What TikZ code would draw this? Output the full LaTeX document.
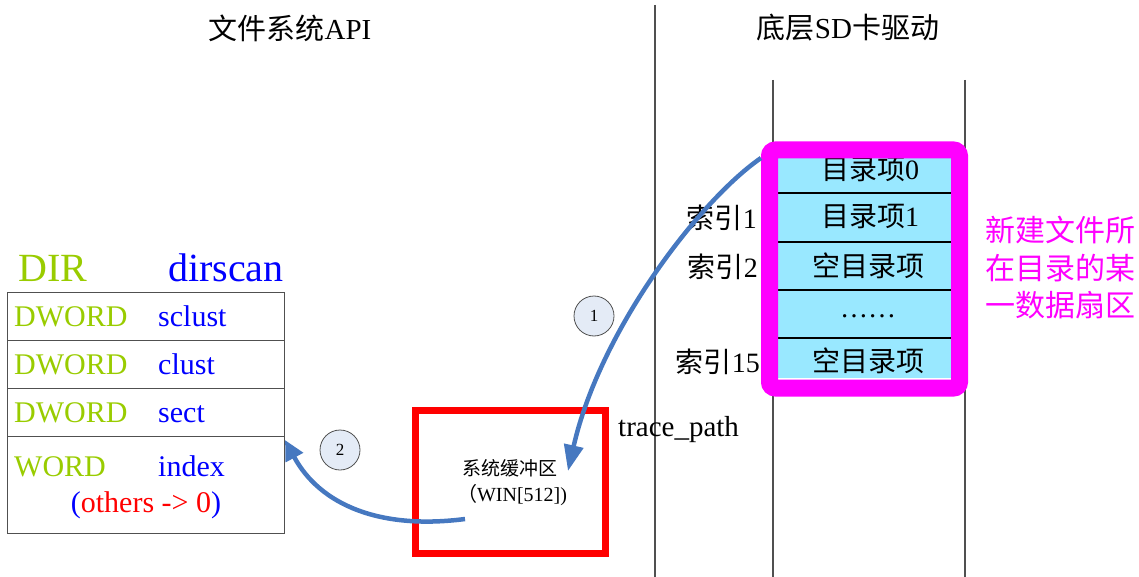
\documentclass[tikz,border=0pt]{standalone}
\usepackage{fontspec}
\setmainfont{Liberation Serif}
\newfontfamily\cjk{Noto Sans CJK SC}
\usetikzlibrary{arrows.meta}
\definecolor{dgreen}{RGB}{153,204,0}
\definecolor{cellc}{RGB}{153,232,255}
\definecolor{arrb}{RGB}{70,120,192}
\definecolor{circf}{RGB}{228,235,246}
\definecolor{lgray}{RGB}{80,80,80}
\definecolor{mag}{RGB}{255,0,255}
\definecolor{rred}{RGB}{255,0,0}
\definecolor{bblue}{RGB}{0,0,255}
\newcommand\fsz[1]{\fontsize{#1}{#1}\selectfont}
\begin{document}
\begin{tikzpicture}[x=1pt,y=-1pt,
  vline/.style={draw=lgray,line width=1.2pt},
  rowbox/.style={draw=lgray,line width=1.2pt,minimum width=277pt,inner sep=0pt,anchor=north west},
  title/.style={font=\fsz{29},inner sep=0pt},
  typ/.style={font=\fsz{30},text=dgreen,anchor=base west,inner sep=0pt},
  fld/.style={font=\fsz{30},text=bblue,anchor=base west,inner sep=0pt},
  celltxt/.style={font=\cjk\fsz{28},inner sep=0pt},
  idx/.style={font=\fsz{28},inner sep=0pt,anchor=east},
  mtxt/.style={font=\cjk\fsz{30},text=mag,inner sep=0pt},
  circ/.style={circle,draw=lgray,line width=0.8pt,fill=circf,minimum size=40pt,inner sep=0pt,font=\fsz{17}},
  arr/.style={draw=arrb,line width=4.5pt,-{Triangle[length=26pt,width=19pt]}},
  arr2/.style={draw=arrb,line width=4.5pt,-{Triangle[length=20pt,width=19pt]}}
]
\useasboundingbox (0,0) rectangle (1139,577);
% separators
\draw[vline] (655,5) -- (655,577);
\draw[vline] (773,80) -- (773,577);
\draw[vline] (965,80) -- (965,577);
% titles
\node[title] (t1) at (290,28) {{\cjk 文件系统}API};
\node[title] (t2) at (848,28) {{\cjk 底层}SD{\cjk 卡驱动}};
% DIR structure
\node[font=\fsz{40},text=dgreen,anchor=base west,inner sep=0pt] (dir) at (18,281) {DIR};
\node[font=\fsz{40},text=bblue,anchor=base west,inner sep=0pt] (dirscan) at (168,281) {dirscan};
\node[rowbox,minimum height=48pt] (r1) at (7,292) {};
\node[rowbox,minimum height=48pt] (r2) at (7,340) {};
\node[rowbox,minimum height=48pt] (r3) at (7,388) {};
\node[rowbox,minimum height=97pt] (r4) at (7,436) {};
\node[typ] (ty1) at (14,326) {DWORD};
\node[fld] (f1) at (158,326) {sclust};
\node[typ] (ty2) at (14,374) {DWORD};
\node[fld] (f2) at (158,374) {clust};
\node[typ] (ty3) at (14,422) {DWORD};
\node[fld] (f3) at (158,422) {sect};
\node[typ] (ty4) at (14,476) {WORD};
\node[fld] (f4) at (158,476) {index};
\node[font=\fsz{30},anchor=base,inner sep=0pt] (oth) at (146,512) {\textcolor{bblue}{(}\textcolor{rred}{others -> 0}\textcolor{bblue}{)}};
% buffer
\node[draw=rred,line width=7pt,minimum width=190pt,minimum height=143pt,inner sep=0pt] (buf) at (510.5,482) {};
\node[font=\cjk\fsz{19},inner sep=0pt] (buft1) at (510,468) {系统缓冲区};
\node[font=\fsz{20},inner sep=0pt] (buft2) at (512,495) {{\cjk （}WIN[512])};
\node[font=\fsz{29},anchor=base west,inner sep=0pt] (tp) at (618,436) {trace\_path};
% sector cells
\fill[cellc] (778,158) rectangle (952,378);
\draw[black,line width=1.2pt] (778,193) -- (952,193) (778,242) -- (952,242) (778,290) -- (952,290) (778,338) -- (952,338);
\node[celltxt] (c0) at (870,170) {目录项{\fontspec{Liberation Serif}0}};
\node[celltxt] (c1) at (870,217) {目录项{\fontspec{Liberation Serif}1}};
\node[celltxt] (c2) at (868,266) {空目录项};
\node[font=\fsz{28},anchor=base,inner sep=0pt] (c3) at (868,317) {……};
\node[celltxt] (c4) at (868,361) {空目录项};
\node[draw=mag,line width=17pt,rounded corners=6pt,minimum width=190pt,minimum height=238pt,inner sep=0pt] (sec) at (864.5,269) {};
\node[idx] (i1) at (757,218) {{\cjk 索引}1};
\node[idx] (i2) at (758,267) {{\cjk 索引}2};
\node[idx] (i15) at (760,362) {{\cjk 索引}15};
\node[mtxt] (m1) at (1060,230) {新建文件所};
\node[mtxt] (m2) at (1060,268) {在目录的某};
\node[mtxt] (m3) at (1060,305) {一数据扇区};
% arrows
\coordinate (a1s) at (761,158);
\coordinate (a1e) at (568,471);
\coordinate (a2s) at (465,519);
\coordinate (a2e) at (285,440);
\draw[arr] (a1s) .. controls (700,200) and (600,330) .. (a1e);
\draw[arr2] (a2s) .. controls (380,530) and (320,505) .. (a2e);
\node[circ] (n1) at (594,316) {1};
\node[circ] (n2) at (340,450) {2};
\end{tikzpicture}
\end{document}
